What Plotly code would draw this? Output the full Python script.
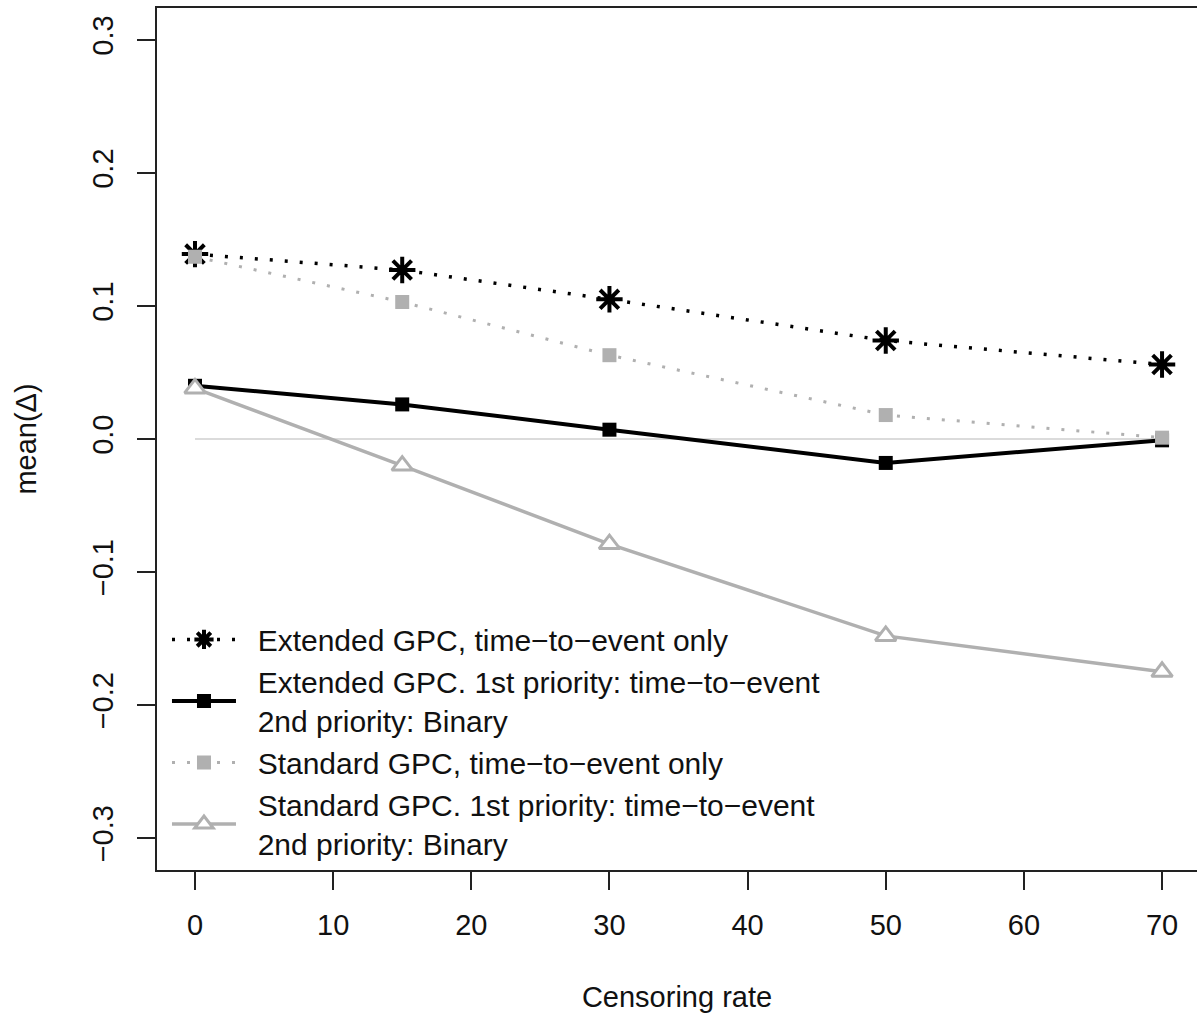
import plotly.graph_objects as go

# Censoring rates (%) on the x axis
censoring = [0, 15, 30, 50, 70]

# mean(Delta) per method
ext_tte = [0.139, 0.127, 0.105, 0.074, 0.056]
ext_prio = [0.040, 0.026, 0.007, -0.018, -0.001]
std_tte = [0.137, 0.103, 0.063, 0.018, 0.001]
std_prio = [0.038, -0.020, -0.079, -0.148, -0.175]

# legend labels (non-breaking spaces keep the text clear of the symbols)
PAD = "\u00a0\u00a0"
names = [
    PAD + "Extended GPC, time\u2212to\u2212event only",
    PAD + "Extended GPC. 1st priority: time\u2212to\u2212event<br>" + PAD + "2nd priority: Binary",
    PAD + "Standard GPC, time\u2212to\u2212event only",
    PAD + "Standard GPC. 1st priority: time\u2212to\u2212event<br>" + PAD + "2nd priority: Binary",
]

y_ticks = [-0.3, -0.2, -0.1, 0.0, 0.1, 0.2, 0.3]
x_ticks = [0, 10, 20, 30, 40, 50, 60, 70]

BLACK = "#000000"
GREY = "#b0b0b0"
FONT = "Liberation Sans, Arial, Helvetica, sans-serif"
TEXT = "#111111"

fig = go.Figure()

fig.add_trace(go.Scatter(
    x=censoring, y=ext_tte, name=names[0], mode="lines+markers",
    line=dict(color=BLACK, width=3.5, dash="3px,12px"),
    marker=dict(symbol="asterisk-open", size=22, color=BLACK,
                line=dict(color=BLACK, width=4)),
))
fig.add_trace(go.Scatter(
    x=censoring, y=ext_prio, name=names[1], mode="lines+markers",
    line=dict(color=BLACK, width=4),
    marker=dict(symbol="square", size=14, color=BLACK),
))
fig.add_trace(go.Scatter(
    x=censoring, y=std_tte, name=names[2], mode="lines+markers",
    line=dict(color=GREY, width=3, dash="3px,12px"),
    marker=dict(symbol="square", size=14, color=GREY),
))
fig.add_trace(go.Scatter(
    x=censoring, y=std_prio, name=names[3], mode="lines+markers",
    line=dict(color=GREY, width=3.5),
    marker=dict(symbol="triangle-up", size=18, color="white",
                line=dict(color=GREY, width=3)),
))

# reference line at zero across the observed censoring rates
fig.add_shape(type="line", xref="x", yref="y",
              x0=censoring[0], x1=censoring[-1], y0=0, y1=0,
              line=dict(color="#cfcfcf", width=1.5), layer="below")

fig.update_layout(
    width=1197, height=1014,
    margin=dict(l=157, r=0, t=8, b=144),
    paper_bgcolor="white", plot_bgcolor="white",
    font=dict(family=FONT, size=29, color=TEXT),
    showlegend=True,
    legend=dict(
        x=0.0096, y=0.2976, xanchor="left", yanchor="top",
        bgcolor="rgba(0,0,0,0)", borderwidth=0,
        font=dict(family=FONT, size=30, color=TEXT),
        itemwidth=64, tracegroupgap=0,
    ),
)

fig.update_xaxes(
    range=[-2.75, 72.53], tickvals=x_ticks,
    showgrid=False, zeroline=False,
    showline=True, linecolor="#222222", linewidth=2, mirror=True,
    ticks="outside", ticklen=18, tickwidth=1.5, tickcolor="#222222",
    ticklabelstandoff=10,
    tickfont=dict(family=FONT, size=29, color=TEXT),
    title=dict(text="Censoring rate", standoff=47,
               font=dict(family=FONT, size=29, color=TEXT)),
)
fig.update_yaxes(
    range=[-0.324, 0.324], tickvals=y_ticks, tickformat=".1f",
    showgrid=False, zeroline=False,
    showline=True, linecolor="#222222", linewidth=2,
    ticks="outside", ticklen=18, tickwidth=1.5, tickcolor="#222222",
    tickangle=-90, ticklabelstandoff=12,
    tickfont=dict(family=FONT, size=29, color=TEXT),
    title=dict(text="mean(\u0394)", standoff=42,
               font=dict(family=FONT, size=29, color=TEXT)),
)

fig.write_html("out.html")
